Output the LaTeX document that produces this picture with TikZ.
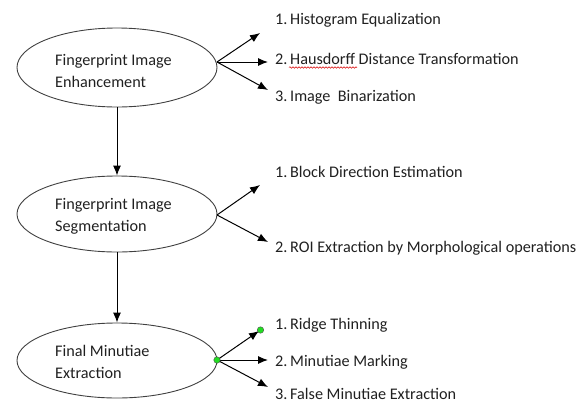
\documentclass[tikz,border=0pt]{standalone}
\usepackage{fontspec}
\setmainfont{Carlito}
\usetikzlibrary{shapes.geometric,arrows.meta,decorations.pathmorphing}
\definecolor{txt}{HTML}{202020}
\definecolor{dotgreen}{HTML}{22DD22}
\tikzset{
  ell/.style={ellipse, draw=black!75, line width=0.9pt, minimum width=200pt, minimum height=79pt, inner sep=0pt},
  etext/.style={anchor=west, align=left, text=txt, font=\fontsize{16.2}{22}\selectfont, inner sep=0pt},
  item/.style={anchor=west, text=txt, font=\fontsize{16.2}{18}\selectfont, inner sep=0pt},
  arr/.style={-{Latex[length=10pt,width=8pt]}, line width=1pt, black},
  gdot/.style={circle, fill=dotgreen, draw=black!70, line width=0.4pt, minimum size=6.5pt, inner sep=0pt},
}
\begin{document}
\begin{tikzpicture}[x=1pt,y=-1pt]
\useasboundingbox (0,0) rectangle (587,405);
% ellipses
\node[ell] (e1) at (117,67.5) {};
\node[ell, minimum height=76pt] (e2) at (117,214) {};
\node[ell, minimum height=75pt] (e3) at (117,360.5) {};
\node[etext] (t1) at (55,71) {Fingerprint Image\\Enhancement};
\node[etext] (t2) at (55,216) {Fingerprint Image\\Segmentation};
\node[etext] (t3) at (55,362) {Final Minutiae\\Extraction};
% vertical arrows
\draw[arr] (e1.south) -- (e2.north);
\draw[arr] (e2.south) -- (e3.north);
% items group 1
\node[item] (a1) at (275,20) {1.\,Histogram Equalization};
\node[item] (a2) at (275,59) {2.\,Hausdorff Distance Transformation};
\node[item] (a3) at (275,97) {3.\,Image\ \ Binarization};
\coordinate (o1) at (217,62);
\coordinate (p1) at (260,33);
\coordinate (p2) at (268,62);
\coordinate (p3) at (268,90);
\draw[arr] (o1) -- (p1);
\draw[arr] (o1) -- (p2);
\draw[arr] (o1) -- (p3);
\draw[red!85!black, line width=0.5pt, decorate, decoration={snake, amplitude=0.8pt, segment length=3pt}] (289,67.5) -- (357,67.5);
% items group 2
\node[item] (b1) at (275,172) {1.\,Block Direction Estimation};
\node[item] (b2) at (275,248) {2.\,ROI Extraction by Morphological operations};
\coordinate (o2) at (217,215);
\coordinate (q1) at (260,185);
\coordinate (q2) at (268,242);
\draw[arr] (o2) -- (q1);
\draw[arr] (o2) -- (q2);
% items group 3
\node[item] (c1) at (275,325) {1.\,Ridge Thinning};
\node[item] (c2) at (275,362) {2.\,Minutiae Marking};
\node[item] (c3) at (275,394) {3.\,False Minutiae Extraction};
\coordinate (o3) at (217,360);
\coordinate (r1) at (259,331);
\coordinate (r2) at (268,360);
\coordinate (r3) at (268,387);
\draw[arr] (o3) -- (r1);
\draw[arr] (o3) -- (r2);
\draw[arr] (o3) -- (r3);
\node[gdot] (g1) at (o3) {};
\node[gdot] (g2) at (260.5,330) {};
\end{tikzpicture}
\end{document}
